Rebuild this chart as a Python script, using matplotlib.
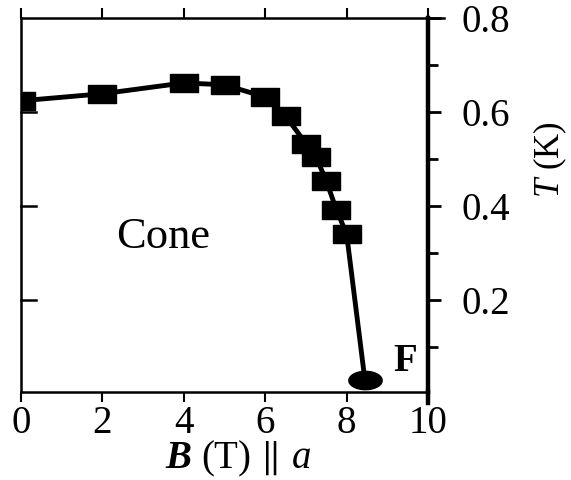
import matplotlib
matplotlib.use('Agg')
import matplotlib.pyplot as plt
import numpy as np
from matplotlib.path import Path
from matplotlib.lines import Line2D

# phase boundary T_c(B) for field along a
B_field = [0.0, 2.0, 4.0, 5.0, 6.0, 6.5, 7.0, 7.25, 7.5, 7.75, 8.0]
T_c = [0.624, 0.639, 0.662, 0.658, 0.632, 0.592, 0.533, 0.504, 0.454, 0.392, 0.341]
# end point of the boundary (ferromagnetic side)
B_end = [8.45]
T_end = [0.03]

x_ticks = [0, 2, 4, 6, 8, 10]
y_ticks = [0.2, 0.4, 0.6, 0.8]
y_minor = [0.1, 0.3, 0.5, 0.7]

plt.rcParams['font.family'] = ['Liberation Serif', 'DejaVu Serif']
plt.rcParams['mathtext.fontset'] = 'custom'
plt.rcParams['mathtext.rm'] = 'Liberation Serif'
plt.rcParams['mathtext.it'] = 'Liberation Serif:italic'
plt.rcParams['mathtext.bf'] = 'Liberation Serif:bold'
plt.rcParams['mathtext.bfit'] = 'Liberation Serif:bold:italic'

# wide rectangle and flat ellipse markers
rect = Path([(-1, -0.68), (1, -0.68), (1, 0.68), (-1, 0.68), (-1, -0.68)],
            [Path.MOVETO, Path.LINETO, Path.LINETO, Path.LINETO, Path.CLOSEPOLY])
t = np.linspace(0, 2 * np.pi, 60)
oval = Path(np.column_stack([np.cos(t), 0.55 * np.sin(t)]), closed=True)

fig = plt.figure(figsize=(5.71, 4.8), dpi=100)
ax = fig.add_axes([0.0368, 0.1833, 0.7128, 0.7792])

ax.plot(B_field + B_end, T_c + T_end, color='black', lw=3.5, zorder=2)
ax.plot(B_field, T_c, ls='none', marker=rect, ms=19.5, color='black', zorder=3)
ax.plot(B_end, T_end, ls='none', marker=oval, ms=24, color='black', zorder=3)

ax.set_xlim(0, 10)
ax.set_ylim(0.005, 0.8)

ax.set_xticks(x_ticks)
ax.tick_params(axis='x', direction='out', length=7, width=1.5, labelsize=28, pad=2)
ax.tick_params(axis='x', which='major', top=True, labeltop=False)

ax.yaxis.tick_right()
ax.set_yticks(y_ticks)
ax.set_yticks(y_minor, minor=True)
ax.tick_params(axis='y', which='major', direction='out', length=9, width=2, labelsize=28, pad=15)
ax.tick_params(axis='y', which='minor', direction='out', length=7, width=2)

# inward ticks on the left spine
for yv in [0.2, 0.4, 0.6]:
    ax.plot([0, 0.38], [yv, yv], color='black', lw=1.8, clip_on=False, zorder=4)

for side in ['left', 'top', 'bottom']:
    ax.spines[side].set_linewidth(1.8)
ax.spines['right'].set_linewidth(3.2)

# spine extensions past the corner
ax.add_line(Line2D([1.0, 1.0], [0.0, -0.03], transform=ax.transAxes, color='black',
                   lw=3.2, clip_on=False))
ax.add_line(Line2D([1.0, 1.04], [1.0, 1.0], transform=ax.transAxes, color='black',
                   lw=1.8, clip_on=False))

ax.set_xlabel(r'$\mathbfit{B}$ (T)$\,\parallel\,$$\mathit{a}$', fontsize=28)
ax.xaxis.set_label_coords(0.535, -0.125)
ax.yaxis.set_label_position('right')
ax.set_ylabel(r'$T$ (K)', fontsize=25)
ax.yaxis.set_label_coords(1.255, 0.62)

ax.text(3.5, 0.335, 'Cone', fontsize=32, ha='center', va='center')
ax.text(9.43, 0.07, 'F', fontsize=28, fontweight='bold', ha='center', va='center')

fig.savefig('out.png', dpi=100)
